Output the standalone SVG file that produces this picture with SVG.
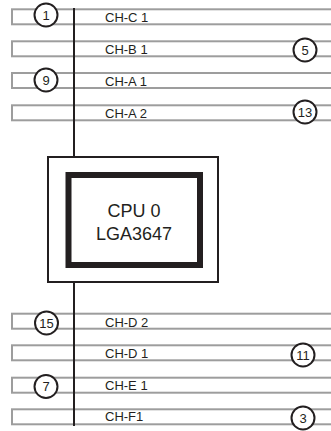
<svg xmlns="http://www.w3.org/2000/svg" width="331" height="431" viewBox="0 0 331 431">
<style>
.slot{fill:none;stroke:#9d9d9d;stroke-width:2}
.lbl{font-family:"Liberation Sans",Arial,sans-serif;font-size:13px;fill:#231f20}
.num{font-family:"Liberation Sans",Arial,sans-serif;font-size:13px;fill:#231f20;text-anchor:middle}
.badge{fill:#fff;stroke:#231f20;stroke-width:2}
.bus{stroke:#231f20;stroke-width:2;fill:none}
.cpu{font-family:"Liberation Sans",Arial,sans-serif;font-size:18px;fill:#231f20;text-anchor:middle}
</style>
<rect width="331" height="431" fill="#fff"/>
<g id="slots">
<g id="ch-c1"><rect class="slot" x="12" y="9.3" width="330" height="15"/><text class="lbl" x="105" y="21.5">CH-C 1</text></g>
<g id="ch-b1"><rect class="slot" x="12" y="41.3" width="330" height="15"/><text class="lbl" x="105" y="53.5">CH-B 1</text></g>
<g id="ch-a1"><rect class="slot" x="12" y="73" width="330" height="15"/><text class="lbl" x="105" y="85.5">CH-A 1</text></g>
<g id="ch-a2"><rect class="slot" x="12" y="105.3" width="330" height="15"/><text class="lbl" x="105" y="117.5">CH-A 2</text></g>
<g id="ch-d2"><rect class="slot" x="12" y="313.7" width="330" height="15"/><text class="lbl" x="105" y="326.5">CH-D 2</text></g>
<g id="ch-d1"><rect class="slot" x="12" y="345.3" width="330" height="15"/><text class="lbl" x="105" y="358">CH-D 1</text></g>
<g id="ch-e1"><rect class="slot" x="12" y="377.7" width="330" height="15"/><text class="lbl" x="105" y="389.5">CH-E 1</text></g>
<g id="ch-f1"><rect class="slot" x="12" y="409.3" width="330" height="15"/><text class="lbl" x="105" y="421">CH-F1</text></g>
</g>
<g id="connectors">
<line class="bus" x1="74" y1="8" x2="74" y2="157"/>
<line class="bus" x1="74" y1="282" x2="74" y2="426"/>
</g>
<g id="cpu0">
<rect x="48" y="157" width="170" height="125" fill="#fff" stroke="#231f20" stroke-width="2"/>
<rect x="68.5" y="175" width="131.5" height="90" fill="#fff" stroke="#231f20" stroke-width="6"/>
<text class="cpu" x="134" y="217">CPU 0</text>
<text class="cpu" x="134" y="240">LGA3647</text>
</g>
<g id="badges">
<g id="b1"><circle class="badge" cx="46" cy="15" r="11.5"/><text class="num" x="46" y="19.7">1</text></g>
<g id="b9"><circle class="badge" cx="46" cy="80" r="11.5"/><text class="num" x="46" y="84.7">9</text></g>
<g id="b5"><circle class="badge" cx="305" cy="50" r="11.5"/><text class="num" x="305" y="54.7">5</text></g>
<g id="b13"><circle class="badge" cx="305" cy="112" r="11.5"/><text class="num" x="305" y="116.7">13</text></g>
<g id="b15"><circle class="badge" cx="46.5" cy="323" r="11.5"/><text class="num" x="46.5" y="327.7">15</text></g>
<g id="b11"><circle class="badge" cx="303" cy="355" r="11.5"/><text class="num" x="303" y="359.7">11</text></g>
<g id="b7"><circle class="badge" cx="46" cy="386.5" r="11.5"/><text class="num" x="46" y="391.2">7</text></g>
<g id="b3"><circle class="badge" cx="303" cy="418" r="11.5"/><text class="num" x="303" y="422.7">3</text></g>
</g>
</svg>
